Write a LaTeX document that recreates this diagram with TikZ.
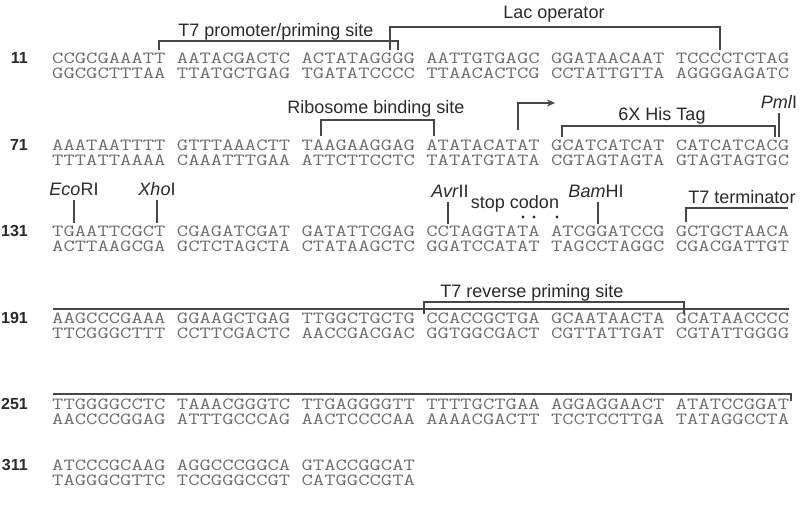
\documentclass[tikz,border=0pt]{standalone}
\usepackage{fontspec}
\usepackage{graphicx}
\setmainfont{Liberation Sans}
\usetikzlibrary{arrows.meta}
\definecolor{seqgray}{HTML}{6E6E6E}
\definecolor{linegray}{HTML}{474747}
\definecolor{labgray}{HTML}{2B2B2B}
\newcommand{\sq}[1]{\scalebox{1.295}[1]{#1}}
\begin{document}
\begin{tikzpicture}[x=1pt,y=-1pt,
  seq/.style={font=\ttfamily\fontsize{17}{18}\selectfont, text=seqgray, inner sep=0, anchor=mid west, text height=10.5pt, text depth=0.5pt},
  num/.style={font=\bfseries\fontsize{16}{18}\selectfont, text=labgray, inner sep=0, anchor=mid east},
  lab/.style={font=\fontsize{18}{20}\selectfont, text=labgray, inner sep=0},
  brk/.style={draw=linegray, line width=1.3pt},
  dot/.style={circle, fill=labgray, inner sep=0, minimum size=3.2pt}]
\useasboundingbox[fill=white] (0,0) rectangle (804,507);

% ---- row 11
\node[num] (n11) at (28,61) {11};
\node[seq] (s11a) at (52,61) {\sq{CCGCGAAATT AATACGACTC ACTATAGGGG AATTGTGAGC GGATAACAAT TCCCCTCTAG}};
\node[seq] (s11b) at (52,76) {\sq{GGCGCTTTAA TTATGCTGAG TGATATCCCC TTAACACTCG CCTATTGTTA AGGGGAGATC}};
\node[lab] (lac) at (554,14) {Lac operator};
\node[lab] (t7p) at (276,32) {T7 promoter/priming site};
\coordinate (lacL) at (390,50);
\coordinate (lacR) at (720,50);
\coordinate (t7L) at (159,50);
\coordinate (t7R) at (398,50);
\draw[brk] (lacL) -- ++(0,-23) -| (lacR);
\draw[brk] (t7L) -- ++(0,-9) -| (t7R);

% ---- row 71
\node[num] (n71) at (28,148) {71};
\node[seq] (s71a) at (52,148) {\sq{AAATAATTTT GTTTAAACTT TAAGAAGGAG ATATACATAT GCATCATCAT CATCATCACG}};
\node[seq] (s71b) at (52,163) {\sq{TTTATTAAAA CAAATTTGAA ATTCTTCCTC TATATGTATA CGTAGTAGTA GTAGTAGTGC}};
\node[lab] (rbs) at (376,109) {Ribosome binding site};
\coordinate (rbsL) at (321,136);
\coordinate (rbsR) at (434,136);
\draw[brk] (rbsL) -- ++(0,-16) -| (rbsR);
\coordinate (arS) at (518,130);
\coordinate (arE) at (555,103);
\draw[brk, -{Stealth[length=8pt,width=7pt]}] (arS) |- (arE);
\node[lab] (his) at (662,116) {6X His Tag};
\coordinate (hisL) at (562,137);
\coordinate (hisR) at (775,137);
\draw[brk] (hisL) -- ++(0,-11) -| (hisR);
\node[lab] (pml) at (779,102) {\textit{Pml}I};
\coordinate (pmlT) at (779,113);
\coordinate (pmlB) at (779,137);
\draw[brk] (pmlT) -- (pmlB);

% ---- row 131
\node[num] (n131) at (28,234) {131};
\node[seq] (s131a) at (52,234) {\sq{TGAATTCGCT CGAGATCGAT GATATTCGAG CCTAGGTATA ATCGGATCCG GCTGCTAACA}};
\node[seq] (s131b) at (52,249) {\sq{ACTTAAGCGA GCTCTAGCTA CTATAAGCTC GGATCCATAT TAGCCTAGGC CGACGATTGT}};
\node[lab] (eco) at (74,189) {\textit{Eco}RI};
\coordinate (ecoT) at (74,200);
\coordinate (ecoB) at (74,223);
\draw[brk] (ecoT) -- (ecoB);
\node[lab] (xho) at (157,189) {\textit{Xho}I};
\coordinate (xhoT) at (157,200);
\coordinate (xhoB) at (157,223);
\draw[brk] (xhoT) -- (xhoB);
\node[lab] (avr) at (450,191) {\textit{Avr}II};
\coordinate (avrT) at (448,202);
\coordinate (avrB) at (448,224);
\draw[brk] (avrT) -- (avrB);
\node[lab] (stop) at (515,204) {stop codon};
\node[dot] (d1) at (523,217) {};
\node[dot] (d2) at (534,217) {};
\node[dot] (d3) at (557,217) {};
\node[lab] (bam) at (596,191) {\textit{Bam}HI};
\coordinate (bamT) at (598,202);
\coordinate (bamB) at (598,224);
\draw[brk] (bamT) -- (bamB);
\node[lab] (t7t) at (742,197) {T7 terminator};
\coordinate (ttL) at (686,222);
\coordinate (ttR) at (788,208);
\draw[brk] (ttL) |- (ttR);

% ---- row 191
\node[num] (n191) at (28,321) {191};
\node[seq] (s191a) at (52,321) {\sq{AAGCCCGAAA GGAAGCTGAG TTGGCTGCTG CCACCGCTGA GCAATAACTA GCATAACCCC}};
\node[seq] (s191b) at (52,336) {\sq{TTCGGGCTTT CCTTCGACTC AACCGACGAC GGTGGCGACT CGTTATTGAT CGTATTGGGG}};
\node[lab] (t7r) at (532,293) {T7 reverse priming site};
\coordinate (trL) at (424,314);
\coordinate (trR) at (684,314);
\draw[brk] (trL) -- ++(0,-12) -| (trR);
\coordinate (tl1a) at (53,309);
\coordinate (tl1b) at (789,309);
\draw[brk] (tl1a) -- (tl1b);

% ---- row 251
\node[num] (n251) at (28,407) {251};
\node[seq] (s251a) at (52,407) {\sq{TTGGGGCCTC TAAACGGGTC TTGAGGGGTT TTTTGCTGAA AGGAGGAACT ATATCCGGAT}};
\node[seq] (s251b) at (52,422) {\sq{AACCCCGGAG ATTTGCCCAG AACTCCCCAA AAAACGACTT TCCTCCTTGA TATAGGCCTA}};
\coordinate (tl2a) at (53,394);
\coordinate (tl2b) at (791,401);
\draw[brk] (tl2a) -| (tl2b);

% ---- row 311
\node[num] (n311) at (28,468) {311};
\node[seq] (s311a) at (52,468) {\sq{ATCCCGCAAG AGGCCCGGCA GTACCGGCAT}};
\node[seq] (s311b) at (52,483) {\sq{TAGGGCGTTC TCCGGGCCGT CATGGCCGTA}};
\end{tikzpicture}
\end{document}
